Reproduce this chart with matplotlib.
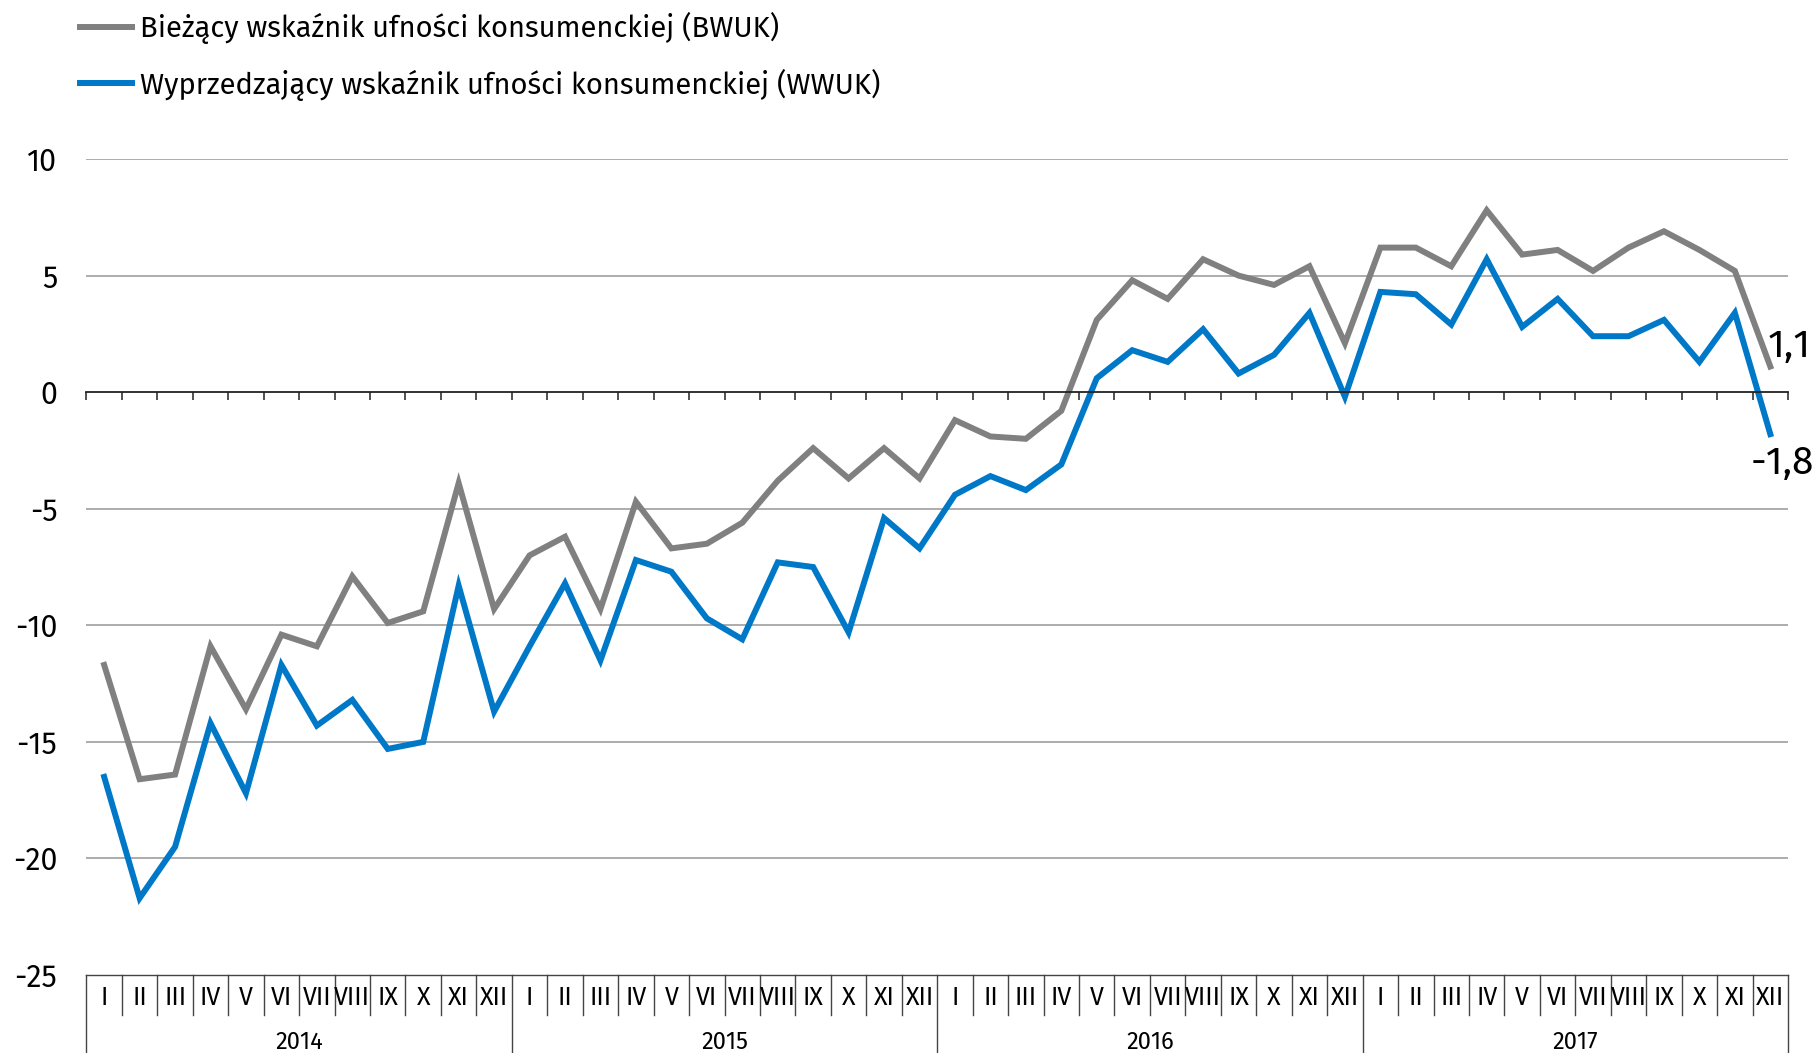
import matplotlib
matplotlib.use("Agg")
import matplotlib.pyplot as plt
from matplotlib import font_manager
import matplotlib.transforms as mtransforms
import numpy as np

installed = {f.name for f in font_manager.fontManager.ttflist}
font = next(n for n in ['Fira Sans', 'Fira Sans Condensed', 'Roboto']
            if n in installed)
plt.rcParams['font.family'] = [font, 'DejaVu Sans']

years = ["2014", "2015", "2016", "2017"]
months = ["I", "II", "III", "IV", "V", "VI", "VII", "VIII", "IX", "X", "XI", "XII"]

bwuk = [-11.7, -16.6, -16.4, -10.9, -13.6, -10.4, -10.9, -7.9, -9.9, -9.4, -3.9, -9.3,
        -7.0, -6.2, -9.3, -4.7, -6.7, -6.5, -5.6, -3.8, -2.4, -3.7, -2.4, -3.7,
        -1.2, -1.9, -2.0, -0.8, 3.1, 4.8, 4.0, 5.7, 5.0, 4.6, 5.4, 2.1,
        6.2, 6.2, 5.4, 7.8, 5.9, 6.1, 5.2, 6.2, 6.9, 6.1, 5.2, 1.1]
wwuk = [-16.5, -21.7, -19.5, -14.2, -17.2, -11.7, -14.3, -13.2, -15.3, -15.0, -8.3, -13.7,
        -10.9, -8.2, -11.5, -7.2, -7.7, -9.7, -10.6, -7.3, -7.5, -10.3, -5.4, -6.7,
        -4.4, -3.6, -4.2, -3.1, 0.6, 1.8, 1.3, 2.7, 0.8, 1.6, 3.4, -0.2,
        4.3, 4.2, 2.9, 5.7, 2.8, 4.0, 2.4, 2.4, 3.1, 1.3, 3.4, -1.8]

labels = ["Bieżący wskaźnik ufności konsumenckiej (BWUK)",
          "Wyprzedzający wskaźnik ufności konsumenckiej (WWUK)"]
gray = "#808080"
blue = "#0078c8"

fig = plt.figure(figsize=(18.16, 10.53), dpi=100)
ax = fig.add_axes([0.0476, 0.074, 0.937, 0.775])

x = np.arange(len(bwuk))
ax.plot(x, bwuk, color=gray, lw=4.3, label=labels[0], solid_joinstyle='miter')
ax.plot(x, wwuk, color=blue, lw=4.3, label=labels[1], solid_joinstyle='miter')

ax.set_xlim(-0.5, len(x) - 0.5)
ax.set_ylim(-25, 10)
ax.set_yticks(np.arange(-25, 11, 5))
ax.set_yticklabels([str(v) for v in range(-25, 11, 5)], fontsize=22)
ax.tick_params(axis='y', length=0, pad=21)
for v in range(-20, 11, 5):
    if v != 0:
        ax.axhline(v, color="#a6a6a6", lw=1.3, zorder=0)

# zero line carries the category ticks
for s in ['top', 'right', 'left']:
    ax.spines[s].set_visible(False)
ax.spines['bottom'].set_position(('data', 0))
ax.spines['bottom'].set_color("#222222")
ax.spines['bottom'].set_linewidth(1.3)
ax.set_xticks(np.arange(-0.5, len(x), 1))
ax.set_xticklabels([])
ax.tick_params(axis='x', direction='out', length=6, width=1.1, color="#222222")

# category table under the plot
tr = mtransforms.blended_transform_factory(ax.transData, ax.transAxes)
ax.axhline(-25, color="#444444", lw=1.0, clip_on=False)
for i in range(len(x) + 1):
    bottom = -0.097 if i % 12 == 0 else -0.049
    ax.plot([i - 0.5, i - 0.5], [0, bottom], transform=tr, color="#444444",
            lw=1.0, clip_on=False)
for i in range(len(x)):
    ax.text(i, -0.028, months[i % 12], transform=tr, ha='center', va='center',
            fontsize=18)
for j, yr in enumerate(years):
    ax.text(j * 12 + 5.5, -0.082, yr, transform=tr, ha='center', va='center',
            fontsize=17)

# end values
ax.annotate(f"{bwuk[-1]}".replace('.', ','), (x[-1], bwuk[-1]), xytext=(19, 2),
            textcoords='offset pixels', ha='center', va='bottom', fontsize=28,
            annotation_clip=False)
ax.annotate(f"{wwuk[-1]}".replace('.', ','), (x[-1], wwuk[-1]), xytext=(12, -10),
            textcoords='offset pixels', ha='center', va='top', fontsize=28,
            annotation_clip=False)

fig.legend(loc='upper left', bbox_to_anchor=(0.0375, 1.0), frameon=False,
           fontsize=21, handlelength=1.8, handletextpad=0.25, labelspacing=0.85,
           borderaxespad=0)

fig.savefig("out.png", dpi=100)
